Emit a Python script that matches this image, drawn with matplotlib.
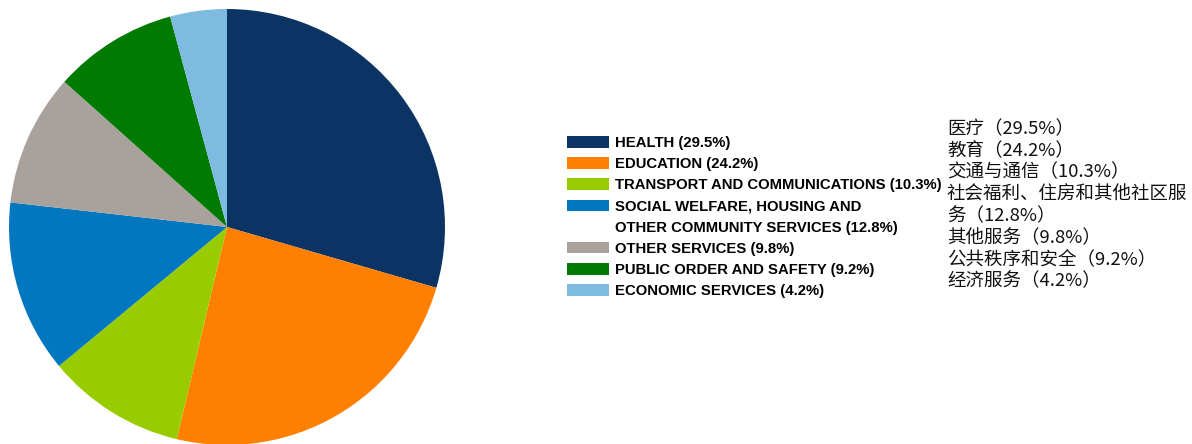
import matplotlib.pyplot as plt
from matplotlib.patches import Patch

categories = [
    "HEALTH (29.5%)",
    "EDUCATION (24.2%)",
    "TRANSPORT AND COMMUNICATIONS (10.3%)",
    "SOCIAL WELFARE, HOUSING AND",
    "OTHER SERVICES (9.8%)",
    "PUBLIC ORDER AND SAFETY (9.2%)",
    "ECONOMIC SERVICES (4.2%)",
]
# second line of the wrapped 4th label
wrap_line = "OTHER COMMUNITY SERVICES (12.8%)"
categories_zh = [
    "医疗（29.5%）",
    "教育（24.2%）",
    "交通与通信（10.3%）",
    "社会福利、住房和其他社区服\n务（12.8%）",
    "其他服务（9.8%）",
    "公共秩序和安全（9.2%）",
    "经济服务（4.2%）",
]
shares = [29.5, 24.2, 10.3, 12.8, 9.8, 9.2, 4.2]
colors = ["#0B3363", "#FF8000", "#99CC00", "#0077BF", "#A9A19B", "#007A00", "#7FBBE0"]

fig = plt.figure(figsize=(11.92, 4.44), dpi=100)
ax = fig.add_axes([9 / 1192, -1 / 444, 436 / 1192, 436 / 444])
wedges, _ = ax.pie(shares, colors=colors, startangle=90, counterclock=False,
                   wedgeprops=dict(linewidth=0))
ax.set_xlim(-1, 1)
ax.set_ylim(-1, 1)
ax.set_aspect("equal")

handles = list(wedges[:4]) + [Patch(visible=False)] + list(wedges[4:])
labels = categories[:4] + [wrap_line] + categories[4:]
leg = fig.legend(handles, labels, loc="upper left",
                 bbox_to_anchor=(567 / 1192, 1 - 136 / 444),
                 frameon=False, handlelength=2.8, handleheight=0.82,
                 handletextpad=0.4, labelspacing=0.48, borderaxespad=0,
                 borderpad=0,
                 prop=dict(family=["Liberation Sans"], weight="bold", size=10.75))

fig.text(947 / 1192, 1 - 120 / 444, "\n".join(categories_zh), ha="left", va="top",
         family=["Noto Sans CJK SC", "DejaVu Sans"], fontsize=13.3, linespacing=1.27,
         color="#111111")

fig.savefig("out.png", dpi=100)
